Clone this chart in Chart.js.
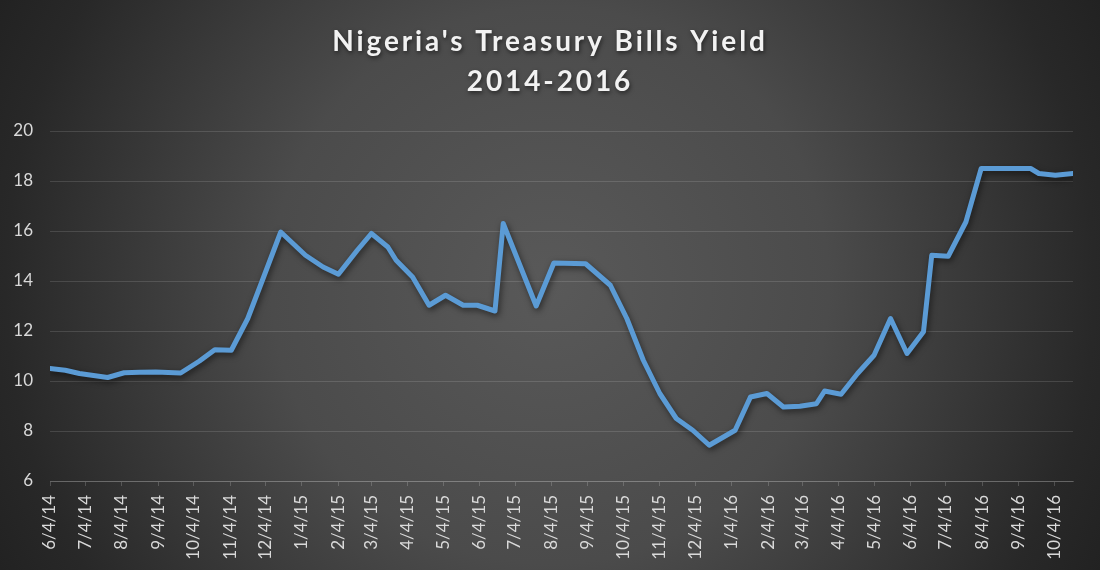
<!DOCTYPE html>
<html>
<head>
<meta charset="utf-8">
<script src="https://cdn.jsdelivr.net/npm/chart.js@4/dist/chart.umd.min.js"></script>
<style>
  html, body { margin: 0; padding: 0; background: #2a2a2a; }
  #wrap { width: 1100px; height: 570px; }
</style>
</head>
<body>
<div id="wrap"><canvas id="c" width="1100" height="570"></canvas></div>
<script>
const titleLines = ["Nigeria's Treasury Bills Yield", "2014-2016"];

const dates = [
  '2014-06-04','2014-06-17','2014-06-29','2014-07-23','2014-08-06','2014-08-19',
  '2014-09-02','2014-09-23','2014-10-09','2014-10-22','2014-11-05','2014-11-19',
  '2014-12-02','2014-12-17','2015-01-07','2015-01-22','2015-02-04','2015-02-20',
  '2015-03-04','2015-03-18','2015-03-25','2015-04-08','2015-04-22','2015-05-06',
  '2015-05-21','2015-06-02','2015-06-17','2015-06-24','2015-07-22','2015-08-06',
  '2015-09-02','2015-09-23','2015-10-07','2015-10-21','2015-11-04','2015-11-18',
  '2015-12-02','2015-12-16','2016-01-07','2016-01-20','2016-02-03','2016-02-17',
  '2016-03-02','2016-03-16','2016-03-23','2016-04-06','2016-04-20','2016-05-04',
  '2016-05-18','2016-06-01','2016-06-15','2016-06-22','2016-07-06','2016-07-21',
  '2016-08-03','2016-08-17','2016-08-31','2016-09-14','2016-09-21','2016-10-05',
  '2016-10-20'
];

const yields = [
  10.50, 10.43, 10.30, 10.14, 10.33, 10.35,
  10.36, 10.32, 10.80, 11.25, 11.23, 12.50,
  14.10, 15.96, 15.03, 14.56, 14.27, 15.23,
  15.90, 15.36, 14.83, 14.16, 13.03, 13.43,
  13.03, 13.03, 12.80, 16.30, 13.00, 14.72,
  14.69, 13.83, 12.50, 10.83, 9.50, 8.50,
  8.03, 7.43, 8.03, 9.36, 9.50, 8.96,
  8.99, 9.09, 9.60, 9.47, 10.30, 11.03,
  12.50, 11.10, 11.97, 15.03, 14.99, 16.36,
  18.50, 18.50, 18.50, 18.50, 18.30, 18.23,
  18.30
];

const xTickLabels = [
  '6/4/14','7/4/14','8/4/14','9/4/14','10/4/14','11/4/14','12/4/14',
  '1/4/15','2/4/15','3/4/15','4/4/15','5/4/15','6/4/15','7/4/15','8/4/15',
  '9/4/15','10/4/15','11/4/15','12/4/15','1/4/16','2/4/16','3/4/16','4/4/16',
  '5/4/16','6/4/16','7/4/16','8/4/16','9/4/16','10/4/16'
];

const yMin = 6, yMax = 20, yStep = 2;

// ---- helpers: convert dates to day numbers for a linear (date-like) axis ----
const DAY = 86400000;
const isoToMs = s => { const [y, m, d] = s.split('-').map(Number); return Date.UTC(y, m - 1, d); };
const mdyToMs = s => { const [m, d, y] = s.split('/').map(Number); return Date.UTC(2000 + y, m - 1, d); };
const origin = isoToMs(dates[0]);
const dayOf = ms => Math.round((ms - origin) / DAY);

const points = dates.map((d, i) => ({ x: dayOf(isoToMs(d)), y: yields[i] }));
const tickDays = xTickLabels.map(l => dayOf(mdyToMs(l)));
const labelByDay = {};
tickDays.forEach((v, i) => { labelByDay[v] = xTickLabels[i]; });

const bgPlugin = {
  id: 'bg',
  beforeDraw(chart) {
    const { ctx, width, height } = chart;
    ctx.save();
    const cx = width / 2, cy = height / 2;
    const g = ctx.createRadialGradient(cx, cy, 0, cx, cy, Math.hypot(cx, cy));
    g.addColorStop(0, '#595959');
    g.addColorStop(0.45, '#4b4b4b');
    g.addColorStop(0.88, '#282828');
    g.addColorStop(1, '#222222');
    ctx.fillStyle = g;
    ctx.fillRect(0, 0, width, height);
    ctx.restore();
  }
};

// Chart title drawn as canvas text with letter spacing (Excel-style spaced title)
const titlePlugin = {
  id: 'spacedTitle',
  afterDraw(chart) {
    const ctx = chart.ctx;
    ctx.save();
    ctx.font = 'bold 28px Lato';
    ctx.fillStyle = '#f2f2f2';
    ctx.textAlign = 'center';
    ctx.textBaseline = 'alphabetic';
    if ('letterSpacing' in ctx) ctx.letterSpacing = '2.9px';
    ctx.shadowColor = 'rgba(0,0,0,0.55)';
    ctx.shadowBlur = 4;
    ctx.shadowOffsetX = 1;
    ctx.shadowOffsetY = 2;
    const baselines = [51, 91];
    titleLines.forEach((t, i) => ctx.fillText(t, chart.width / 2, baselines[i]));
    ctx.restore();
  }
};

const shadowPlugin = {
  id: 'lineShadow',
  beforeDatasetDraw(chart) {
    const ctx = chart.ctx;
    ctx.save();
    ctx.shadowColor = 'rgba(0,0,0,0.55)';
    ctx.shadowBlur = 6;
    ctx.shadowOffsetX = 1.5;
    ctx.shadowOffsetY = 2.5;
  },
  afterDatasetDraw(chart) {
    chart.ctx.restore();
  }
};

new Chart(document.getElementById('c'), {
  type: 'line',
  data: {
    datasets: [{
      label: 'Treasury Bills Yield',
      data: points,
      borderColor: '#5B9BD5',
      borderWidth: 5,
      pointRadius: 0,
      tension: 0,
      fill: false,
      borderJoinStyle: 'round',
      borderCapStyle: 'round'
    }]
  },
  options: {
    responsive: false,
    animation: false,
    devicePixelRatio: 1,
    layout: { padding: { left: 0, right: 27, top: 131, bottom: 0 } },
    plugins: {
      legend: { display: false },
      tooltip: { enabled: false },
      title: { display: false }
    },
    scales: {
      x: {
        type: 'linear',
        min: 0,
        max: points[points.length - 1].x,
        afterBuildTicks(axis) {
          axis.ticks = tickDays.map(v => ({ value: v }));
        },
        afterFit(axis) {
          axis.height = 89;
          axis.paddingLeft = 0;
          axis.paddingRight = 0;
        },
        grid: {
          display: true,
          drawOnChartArea: false,
          drawTicks: true,
          tickLength: 5,
          color: 'rgba(255,255,255,0.18)'
        },
        border: { display: true, color: 'rgba(255,255,255,0.18)', width: 1 },
        ticks: {
          autoSkip: false,
          maxRotation: 90,
          minRotation: 90,
          padding: 9,
          color: '#d9d9d9',
          font: { family: 'Lato', size: 17 },
          callback: v => labelByDay[v] ?? ''
        }
      },
      y: {
        min: yMin,
        max: yMax,
        afterFit(axis) {
          axis.width = 50;
        },
        ticks: {
          stepSize: yStep,
          color: '#d9d9d9',
          padding: 17,
          font: { family: 'Lato', size: 17 }
        },
        grid: {
          color: 'rgba(255,255,255,0.13)',
          lineWidth: 1,
          drawTicks: false
        },
        border: { display: false }
      }
    }
  },
  plugins: [bgPlugin, shadowPlugin, titlePlugin]
});
</script>
</body>
</html>
